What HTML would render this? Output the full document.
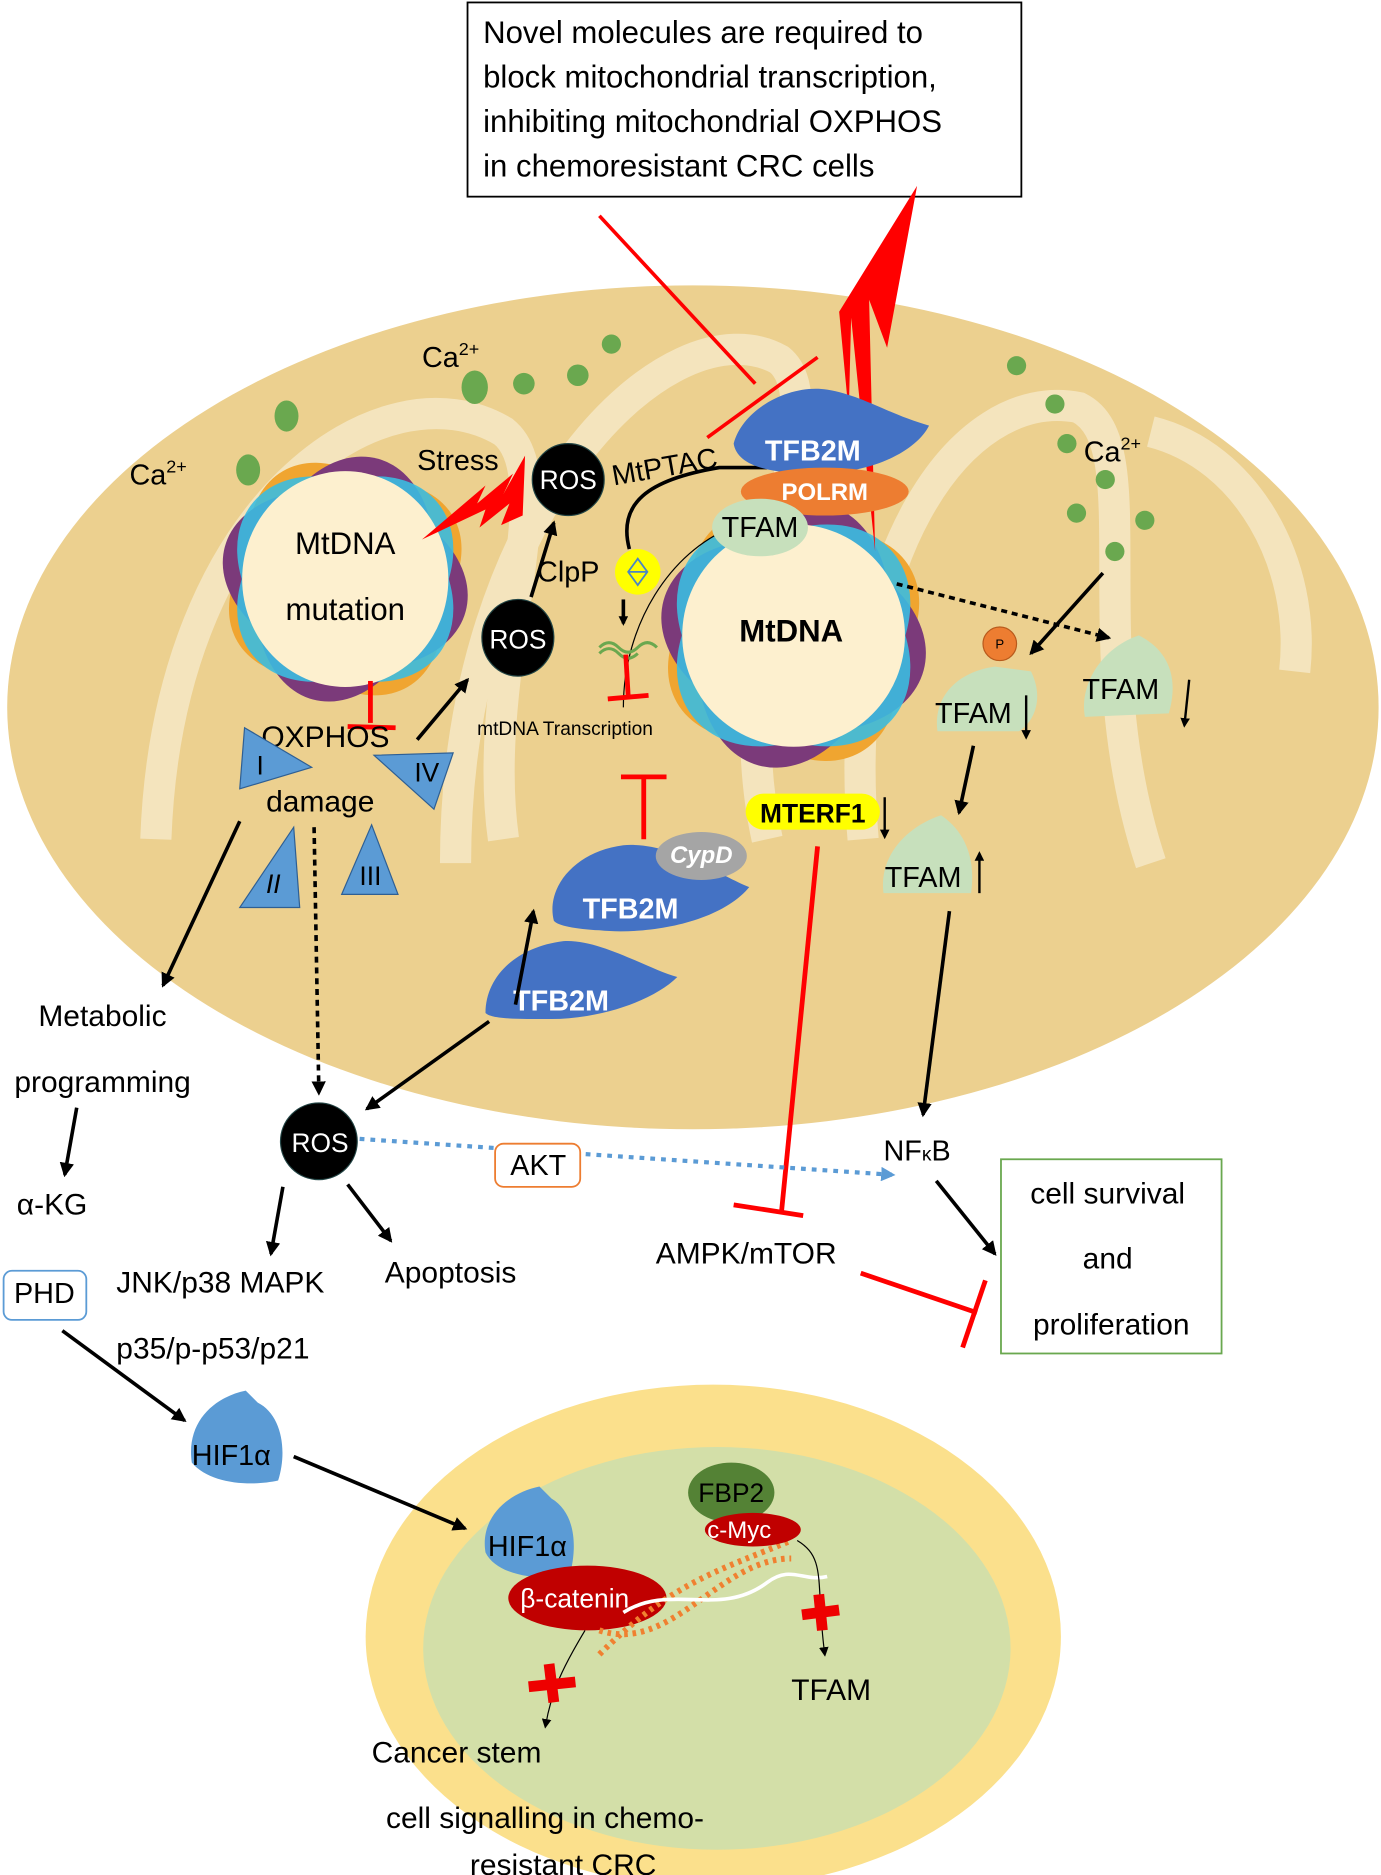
<!DOCTYPE html>
<html><head><meta charset="utf-8"><style>
html,body{margin:0;padding:0;background:#fff}
svg{display:block}
text{font-family:"Liberation Sans",sans-serif}
</style></head><body>
<svg width="1381" height="1875" viewBox="0 0 1152 1564" xmlns="http://www.w3.org/2000/svg">
<defs>
<marker id="a" markerWidth="8" markerHeight="8" refX="6" refY="4" orient="auto" markerUnits="userSpaceOnUse"><path d="M0,0 L8,4 L0,8 z" fill="#000"/></marker>
<marker id="ab" markerWidth="12" markerHeight="12" refX="10" refY="6" orient="auto" markerUnits="userSpaceOnUse"><path d="M0,0 L12,6 L0,12 z" fill="#000"/></marker>
<marker id="ablue" markerWidth="12" markerHeight="12" refX="10" refY="6" orient="auto" markerUnits="userSpaceOnUse"><path d="M0,0 L12,6 L0,12 z" fill="#5b9bd5"/></marker>
<clipPath id="mc"><ellipse cx="578" cy="590" rx="572" ry="352"/></clipPath>
<g id="petals">
<ellipse rx="104" ry="72" fill="#f0a530" transform="rotate(60)"/>
<ellipse rx="104" ry="72" fill="#f0a530" transform="rotate(150)"/>
<ellipse rx="104" ry="72" fill="#7b3a7a" transform="rotate(15)"/>
<ellipse rx="104" ry="72" fill="#7b3a7a" transform="rotate(105)"/>
<ellipse rx="100" ry="74" fill="#3bbde0" opacity="0.9" transform="rotate(-40)"/>
<ellipse rx="100" ry="74" fill="#3bbde0" opacity="0.9" transform="rotate(40)"/>
</g>
</defs>
<!-- mitochondrion -->
<ellipse cx="578" cy="590" rx="572" ry="352" fill="#ecd08f"/>
<g fill="none" stroke="#f4e4bd" stroke-width="26" clip-path="url(#mc)">
<path d="M130,700 C140,420 320,300 420,360 C470,400 400,560 420,700"/>
<path d="M380,720 C380,420 560,250 650,300 C700,340 600,520 640,700"/>
<path d="M720,700 C700,470 800,320 900,340 C960,370 900,540 960,720"/>
<path d="M960,360 C1040,380 1090,470 1080,560"/>
</g>
<!-- text box -->
<rect x="390" y="2" width="462" height="162" fill="#fff" stroke="#000" stroke-width="1.5"/>
<text font-size="26" fill="#000"><tspan x="403" y="36">Novel molecules are required to</tspan><tspan x="403" y="73">block mitochondrial transcription,</tspan><tspan x="403" y="110">inhibiting mitochondrial OXPHOS</tspan><tspan x="403" y="147">in chemoresistant CRC cells</tspan></text>
<!-- Ca dots -->
<g fill="#6aa84f">
<ellipse cx="239" cy="347" rx="10" ry="13"/><ellipse cx="207" cy="392" rx="10" ry="13"/>
<ellipse cx="396" cy="323" rx="11" ry="14"/><ellipse cx="437" cy="320" rx="9" ry="9"/><ellipse cx="482" cy="313" rx="9" ry="9"/><ellipse cx="510" cy="287" rx="8" ry="8"/>
<circle cx="848" cy="305" r="8"/><circle cx="880" cy="337" r="8"/><circle cx="890" cy="370" r="8"/><circle cx="922" cy="400" r="8"/><circle cx="898" cy="428" r="8"/><circle cx="955" cy="434" r="8"/><circle cx="930" cy="460" r="8"/>
</g>
<text font-size="24" x="108" y="404">Ca<tspan font-size="15" dy="-10">2+</tspan></text>
<text font-size="24" x="352" y="306">Ca<tspan font-size="15" dy="-10">2+</tspan></text>
<text font-size="24" x="904" y="385">Ca<tspan font-size="15" dy="-10">2+</tspan></text>
<!-- left mtDNA -->
<g transform="translate(288,483)"><use href="#petals"/><ellipse rx="86" ry="90" fill="#fdf0cf"/></g>
<text font-size="26" x="288" y="462" text-anchor="middle">MtDNA</text>
<text font-size="26" x="288" y="517" text-anchor="middle">mutation</text>
<!-- right mtDNA -->
<g transform="translate(662,530) scale(1.08)"><use href="#petals"/><ellipse rx="86" ry="86" fill="#fdf0cf"/></g>
<text font-size="26" font-weight="bold" x="660" y="535" text-anchor="middle">MtDNA</text>
<!-- stress bolt -->
<path d="M352,450 L405,405 L398,420 L428,395 L420,412 L438,380 L436,430 L418,438 L425,420 L400,440 L405,425 z" fill="#ff0000"/>
<text font-size="24" x="348" y="392">Stress</text>
<!-- ROS clouds -->
<g fill="#000" stroke="#244" stroke-width="1">
<ellipse cx="474" cy="400" rx="30" ry="30"/><ellipse cx="432" cy="532" rx="30" ry="32"/><ellipse cx="266" cy="952" rx="32" ry="32"/>
</g>
<text font-size="22" fill="#fff" x="474" y="408" text-anchor="middle">ROS</text>
<text font-size="22" fill="#fff" x="432" y="541" text-anchor="middle">ROS</text>
<text font-size="22" fill="#fff" x="267" y="961" text-anchor="middle">ROS</text>
<line x1="443" y1="498" x2="462" y2="436" stroke="#000" stroke-width="3" marker-end="url(#ab)"/>
<line x1="348" y1="617" x2="390" y2="567" stroke="#000" stroke-width="3" marker-end="url(#ab)"/>
<text font-size="24" x="448" y="485">ClpP</text>
<text font-size="24" x="512" y="405" transform="rotate(-10 512 405)">MtPTAC</text>
<!-- ClpP yellow -->
<circle cx="532" cy="477" r="19" fill="#ffff00"/>
<path d="M532,466 L540,477 L532,488 L524,477 z M524,477 L540,477" fill="none" stroke="#4a86c5" stroke-width="1.5"/>
<path d="M525,458 C515,420 540,400 600,390 L640,390" fill="none" stroke="#000" stroke-width="3"/>
<path d="M520,590 C520,520 560,460 610,440" fill="none" stroke="#000" stroke-width="1"/>
<line x1="520" y1="500" x2="520" y2="520" stroke="#000" stroke-width="3" marker-end="url(#a)"/>
<path d="M500,540 q8,-8 16,0 q8,8 16,0 q8,-8 16,0 M500,545 q8,-8 16,0 q8,8 16,0" fill="none" stroke="#6aa84f" stroke-width="2.5"/>
<line x1="522" y1="546" x2="524" y2="580" stroke="#f00" stroke-width="4"/><line x1="507" y1="583" x2="541" y2="580" stroke="#f00" stroke-width="4"/>
<text font-size="16" x="398" y="613">mtDNA Transcription</text>
<!-- red inhibition big line -->
<line x1="500" y1="180" x2="630" y2="320" stroke="#f00" stroke-width="3"/>
<line x1="590" y1="365" x2="682" y2="298" stroke="#f00" stroke-width="3"/>
<!-- big bolt -->
<path d="M765,155 L740,290 L725,250 L730,460 L710,265 L708,345 L700,260 z" fill="#ff0000"/>
<!-- TFB2M top -->
<path d="M612,370 C620,340 660,320 690,325 C720,330 740,345 775,355 C765,375 730,395 680,395 C640,395 615,388 612,370 z" fill="#4472c4"/>
<text font-size="24" font-weight="bold" fill="#fff" x="638" y="384">TFB2M</text>
<ellipse cx="688" cy="410" rx="70" ry="20" fill="#ed7d31"/>
<text font-size="20" font-weight="bold" fill="#fff" x="688" y="417" text-anchor="middle">POLRM</text>
<ellipse cx="634" cy="440" rx="40" ry="24" fill="#c7e0bc"/>
<text font-size="24" x="634" y="448" text-anchor="middle">TFAM</text>
<!-- OXPHOS -->
<line x1="309" y1="568" x2="309" y2="603" stroke="#f00" stroke-width="4"/><line x1="290" y1="606" x2="330" y2="607" stroke="#f00" stroke-width="4"/>
<text font-size="25" x="218" y="623">OXPHOS</text>
<text font-size="25" x="222" y="677">damage</text>
<g fill="#5b9bd5" stroke="#2e5f94" stroke-width="1">
<path d="M204,607 L260,640 L200,658 z"/><path d="M312,630 L378,628 L362,675 z"/>
<path d="M245,690 L250,757 L200,757 z"/><path d="M310,688 L332,746 L285,746 z"/>
</g>
<text font-size="22" x="217" y="646" text-anchor="middle">I</text>
<text font-size="22" x="356" y="652" text-anchor="middle">IV</text>
<text font-size="22" font-style="italic" x="228" y="745" text-anchor="middle">II</text>
<text font-size="22" x="309" y="738" text-anchor="middle">III</text>
<!-- lines from damage -->
<line x1="200" y1="685" x2="136" y2="822" stroke="#000" stroke-width="3" marker-end="url(#ab)"/>
<line x1="262" y1="690" x2="266" y2="912" stroke="#000" stroke-width="3" stroke-dasharray="5,4" marker-end="url(#ab)"/>
<text font-size="25" x="32" y="856">Metabolic</text>
<text font-size="25" x="12" y="911">programming</text>
<line x1="64" y1="924" x2="54" y2="980" stroke="#000" stroke-width="3" marker-end="url(#ab)"/>
<text font-size="25" x="14" y="1013">α-KG</text>
<!-- CypD/TFB2M -->
<line x1="537" y1="648" x2="537" y2="700" stroke="#f00" stroke-width="4"/><line x1="518" y1="648" x2="556" y2="648" stroke="#f00" stroke-width="4"/>
<path d="M462,768 C455,740 480,710 520,705 C560,702 600,730 625,740 C600,770 540,780 500,776 C480,775 465,772 462,768 z" fill="#4472c4"/>
<ellipse cx="585" cy="714" rx="38" ry="20" fill="#a5a5a5"/>
<text font-size="20" font-style="italic" font-weight="bold" fill="#fff" x="585" y="720" text-anchor="middle">CypD</text>
<text font-size="24" font-weight="bold" fill="#fff" x="486" y="766">TFB2M</text>
<path d="M405,845 C405,815 430,790 470,785 C500,783 540,808 565,815 C545,835 500,850 460,850 C430,850 410,850 405,845 z" fill="#4472c4"/>
<text font-size="24" font-weight="bold" fill="#fff" x="428" y="843">TFB2M</text>
<line x1="430" y1="838" x2="445" y2="760" stroke="#000" stroke-width="3" marker-end="url(#ab)"/>
<line x1="408" y1="852" x2="306" y2="925" stroke="#000" stroke-width="3" marker-end="url(#ab)"/>
<!-- MTERF1 -->
<rect x="622" y="662" width="112" height="30" rx="15" fill="#ffff00"/>
<text font-size="22" font-weight="bold" x="678" y="686" text-anchor="middle">MTERF1</text>
<line x1="738" y1="665" x2="738" y2="698" stroke="#000" stroke-width="2" marker-end="url(#a)"/>
<line x1="682" y1="706" x2="652" y2="1010" stroke="#f00" stroke-width="4"/><line x1="612" y1="1005" x2="670" y2="1014" stroke="#f00" stroke-width="4"/>
<!-- TFAMs right -->
<line x1="748" y1="487" x2="925" y2="532" stroke="#000" stroke-width="3" stroke-dasharray="5,4" marker-end="url(#ab)"/>
<line x1="920" y1="478" x2="860" y2="545" stroke="#000" stroke-width="3" marker-end="url(#ab)"/>
<path d="M782,610 C778,580 800,560 830,556 L860,560 C870,580 865,600 850,610 z" fill="#c7e0bc"/>
<circle cx="834" cy="537" r="14" fill="#ed7d31" stroke="#b85a1c"/>
<text font-size="11" x="834" y="541" text-anchor="middle">P</text>
<text font-size="24" x="780" y="603">TFAM</text>
<line x1="856" y1="580" x2="856" y2="615" stroke="#000" stroke-width="2" marker-end="url(#a)"/>
<path d="M905,598 C900,570 920,540 950,530 C970,540 985,560 975,595 z" fill="#c7e0bc"/>
<text font-size="24" x="903" y="583">TFAM</text>
<line x1="992" y1="567" x2="988" y2="605" stroke="#000" stroke-width="2" marker-end="url(#a)"/>
<line x1="812" y1="622" x2="800" y2="678" stroke="#000" stroke-width="3" marker-end="url(#ab)"/>
<path d="M737,745 C733,715 755,690 785,680 C800,690 815,710 810,745 z" fill="#c7e0bc"/>
<text font-size="24" x="738" y="740">TFAM</text>
<line x1="817" y1="745" x2="817" y2="712" stroke="#000" stroke-width="2" marker-end="url(#a)"/>
<line x1="792" y1="760" x2="770" y2="930" stroke="#000" stroke-width="3" marker-end="url(#ab)"/>
<!-- AKT / NFkB -->
<line x1="300" y1="950" x2="745" y2="980" stroke="#5b9bd5" stroke-width="3.5" stroke-dasharray="4,5" marker-end="url(#ablue)"/>
<rect x="413" y="954" width="71" height="36" rx="7" fill="#fff" stroke="#ed7d31" stroke-width="1.5"/>
<text font-size="24" x="449" y="980" text-anchor="middle">AKT</text>
<text font-size="24" x="737" y="968">NF<tspan font-size="16">κ</tspan>B</text>
<line x1="781" y1="985" x2="830" y2="1046" stroke="#000" stroke-width="3" marker-end="url(#ab)"/>
<rect x="835" y="967" width="184" height="162" fill="#fff" stroke="#6aa84f" stroke-width="1.5"/>
<text font-size="25" x="924" y="1004" text-anchor="middle">cell survival</text>
<text font-size="25" x="924" y="1058" text-anchor="middle">and</text>
<text font-size="25" x="927" y="1113" text-anchor="middle">proliferation</text>
<text font-size="25" x="547" y="1054">AMPK/mTOR</text>
<line x1="718" y1="1062" x2="815" y2="1095" stroke="#f00" stroke-width="4"/><line x1="822" y1="1068" x2="803" y2="1124" stroke="#f00" stroke-width="4"/>
<!-- ROS outputs -->
<line x1="236" y1="990" x2="226" y2="1046" stroke="#000" stroke-width="3" marker-end="url(#ab)"/>
<line x1="290" y1="988" x2="326" y2="1035" stroke="#000" stroke-width="3" marker-end="url(#ab)"/>
<text font-size="25" x="97" y="1078">JNK/p38 MAPK</text>
<text font-size="25" x="97" y="1133">p35/p-p53/p21</text>
<text font-size="25" x="321" y="1070">Apoptosis</text>
<rect x="3" y="1060" width="69" height="41" rx="7" fill="#fff" stroke="#5b9bd5" stroke-width="1.5"/>
<text font-size="24" x="37" y="1087" text-anchor="middle">PHD</text>
<line x1="52" y1="1110" x2="154" y2="1185" stroke="#000" stroke-width="3" marker-end="url(#ab)"/>
<!-- HIF1a -->
<path d="M160,1220 C155,1185 180,1165 205,1160 L215,1170 C235,1180 240,1210 232,1235 C210,1240 175,1238 160,1220 z" fill="#5b9bd5"/>
<text font-size="24" fill="#000" x="160" y="1222">HIF1α</text>
<!-- nucleus -->
<ellipse cx="595" cy="1365" rx="290" ry="210" fill="#fbe08c"/>
<ellipse cx="598" cy="1375" rx="245" ry="168" fill="#d3dfa8"/>
<line x1="245" y1="1215" x2="388" y2="1275" stroke="#000" stroke-width="3" marker-end="url(#ab)"/>
<path d="M405,1295 C400,1265 425,1245 450,1240 L460,1250 C480,1262 482,1290 475,1315 C450,1318 415,1315 405,1295 z" fill="#5b9bd5"/>
<text font-size="24" x="407" y="1298">HIF1α</text>
<ellipse cx="490" cy="1333" rx="66" ry="27" fill="#c00000"/>
<text font-size="22" fill="#fff" x="434" y="1341">β-catenin</text>
<path d="M500,1380 C560,1320 600,1310 660,1285 M500,1360 C560,1380 600,1300 660,1300" fill="none" stroke="#f08030" stroke-width="5" stroke-dasharray="3,4"/>
<path d="M520,1345 C560,1320 600,1350 640,1320 C660,1305 670,1320 690,1315" fill="none" stroke="#fff" stroke-width="3"/>
<ellipse cx="610" cy="1245" rx="36" ry="25" fill="#548235"/>
<text font-size="22" x="610" y="1253" text-anchor="middle">FBP2</text>
<ellipse cx="628" cy="1276" rx="40" ry="14" fill="#c00000"/>
<text font-size="20" fill="#fff" x="590" y="1283">c-Myc</text>
<path d="M665,1285 C690,1300 680,1320 688,1380" fill="none" stroke="#000" stroke-width="1" marker-end="url(#a)"/>
<path d="M488,1360 C470,1390 460,1410 455,1440" fill="none" stroke="#000" stroke-width="1" marker-end="url(#a)"/>
<g stroke="#e00" stroke-width="9"><line x1="669" y1="1347" x2="700" y2="1343"/><line x1="683" y1="1330" x2="686" y2="1360"/>
<line x1="441" y1="1407" x2="480" y2="1403"/><line x1="458" y1="1388" x2="462" y2="1420"/></g>
<text font-size="25" x="660" y="1418">TFAM</text>
<text font-size="25" x="310" y="1470">Cancer stem</text>
<text font-size="25" x="322" y="1525">cell signalling in chemo-</text>
<text font-size="25" x="392" y="1564">resistant CRC</text>
</svg>
</body></html>
